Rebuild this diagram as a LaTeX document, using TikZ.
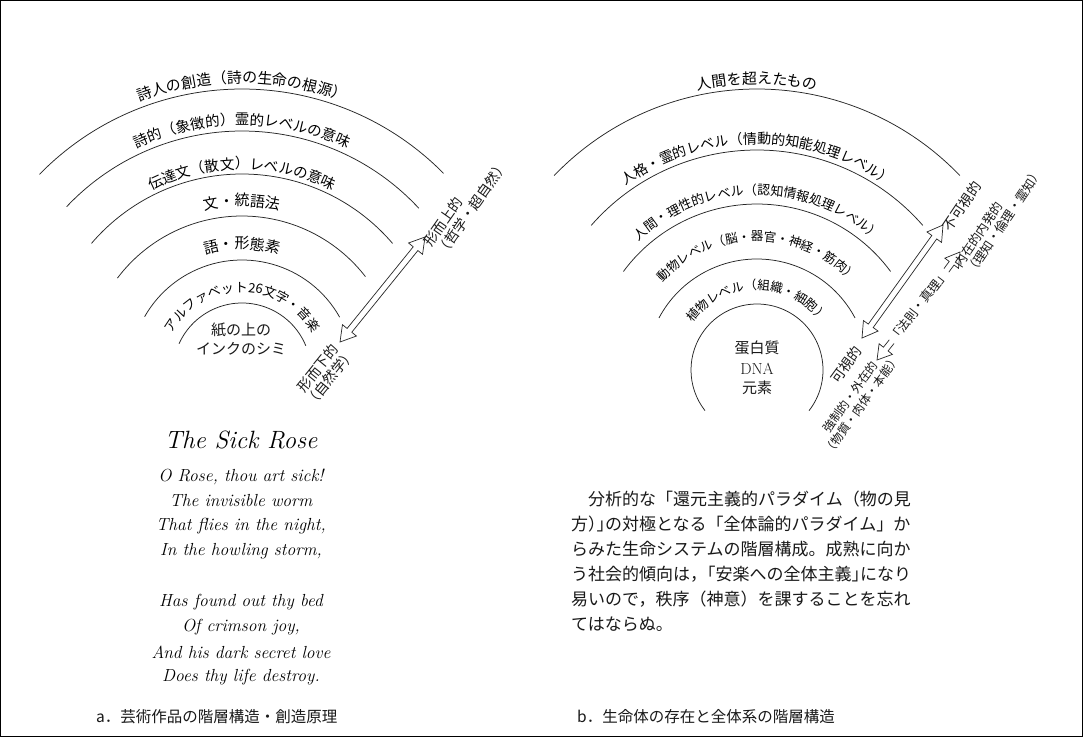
\documentclass[tikz,border=0pt]{standalone}
\usepackage{fontspec}
\usetikzlibrary{calc,decorations.text}
\newfontfamily\jp{Noto Sans CJK JP}
\newfontfamily\jph[RawFeature=+halt]{Noto Sans CJK JP}
\newcommand{\fs}[1]{\fontsize{#1}{#1}\selectfont}
\newcommand{\fsl}[2]{\fontsize{#1}{#2}\selectfont}
\tikzset{
  arcline/.style={line width=0.75pt, draw=black!85},
  hollow/.style={line width=0.7pt, draw=black!85, line join=miter},
  frame/.style={line width=1.2pt, draw=black},
  jlbl/.style={inner sep=0.5pt, text=black!90},
  poem/.style={inner sep=0pt, font=\itshape\fs{17.5}, text=black},
  para/.style={inner sep=0pt, anchor=base west, font=\jp\fs{17}, text=black!90},
}
\newcommand{\ringarc}[4]{%
  \draw[arcline] ($(#1)+(-#3:#2)$) arc[start angle=-#3, end angle=-#4, radius=#2];}
\newcommand{\ringtext}[4]{%
  \path[decorate, decoration={text along path, text align=center,
    text={|\jp\fs{#3}|#4}}]
    ($(#1)+(-175:#2)$) arc[start angle=-175, end angle=-5, radius=#2];}
\newcommand{\dblarrow}[2]{%
  \draw[hollow] (#1)
    -- ($(#1)!15pt!(#2)!9pt!90:(#2)$)
    -- ($(#1)!15pt!(#2)!3pt!90:(#2)$)
    -- ($(#2)!15pt!(#1)!3pt!-90:(#1)$)
    -- ($(#2)!15pt!(#1)!9pt!-90:(#1)$)
    -- (#2)
    -- ($(#2)!15pt!(#1)!9pt!90:(#1)$)
    -- ($(#2)!15pt!(#1)!3pt!90:(#1)$)
    -- ($(#1)!15pt!(#2)!3pt!-90:(#2)$)
    -- ($(#1)!15pt!(#2)!9pt!-90:(#2)$)
    -- cycle;}
\newcommand{\sglarrow}[2]{%
  \draw[hollow] ($(#1)!3pt!90:(#2)$)
    -- ($(#2)!14pt!(#1)!3pt!-90:(#1)$)
    -- ($(#2)!14pt!(#1)!8.5pt!-90:(#1)$)
    -- (#2)
    -- ($(#2)!14pt!(#1)!8.5pt!90:(#1)$)
    -- ($(#2)!14pt!(#1)!3pt!90:(#1)$)
    -- ($(#1)!3pt!-90:(#2)$);}
\begin{document}
\begin{tikzpicture}[x=1pt,y=-1pt]
\useasboundingbox (0,0) rectangle (1083,737);
\fill[white] (0,0) rectangle (1083,737);
\draw[frame] (0.6,0.6) rectangle (1082.4,736.4);

% ---------------- left diagram ----------------
\coordinate (cL) at (242,372);
\ringarc{cL}{283}{44.6}{135.7}
\ringarc{cL}{241}{42.8}{136.7}
\ringarc{cL}{198}{40.5}{139.5}
\ringarc{cL}{156}{37.7}{143}
\ringarc{cL}{112}{29.3}{150.4}
\ringarc{cL}{69}{22.3}{155.9}

\ringtext{cL}{289}{15}{詩人の創造（詩の生命の根源）}
\ringtext{cL}{247}{14.5}{詩的（象徴的）霊的レベルの意味}
\ringtext{cL}{203}{14.5}{伝達文（散文）レベルの意味}
\ringtext{cL}{166}{15}{文・統語法}
\ringtext{cL}{123}{15}{語・形態素}
\ringtext{cL}{80}{13}{アルファベット26文字・音楽}

\node[jlbl, align=center, font=\jp\fsl{15}{19}] (ink) at (241,339) {紙の上の\\インクのシミ};

\coordinate (aL1) at (340,342);
\coordinate (aL2) at (425,237);
\dblarrow{aL1}{aL2}
\node[jlbl, rotate=51, align=center, font=\jp\fsl{14}{16}] (shita) at (324,373) {形而下的\\（自然学）};
\node[jlbl, rotate=55, anchor=west, align=left, font=\jp\fsl{14}{16}] (ue) at (433,250) {形而上的\\（哲学・超自然）};

% ---------------- right diagram ----------------
\coordinate (cR) at (757,370);
\ringarc{cR}{281}{43.8}{136.2}
\ringarc{cR}{220}{41.1}{138.9}
\ringarc{cR}{166}{36.4}{143.6}
\ringarc{cR}{111}{28}{152}
\draw[arcline] ($(cR)+(38:66)$) arc[start angle=38, end angle=-218, radius=66];

\ringtext{cR}{286}{15}{人間を超えたもの}
\ringtext{cR}{226}{14}{人格・霊的レベル（情動的知能処理レベル）}
\ringtext{cR}{175}{13}{人間・理性的レベル（認知情報処理レベル）}
\ringtext{cR}{129}{12.5}{動物レベル（脳・器官・神経・筋肉）}
\ringtext{cR}{80}{12.5}{植物レベル（組織・細胞）}

\node[jlbl, font=\jp\fs{15}] (tanpaku) at (757,348) {蛋白質};
\node[jlbl, font=\fs{16}] (dna) at (757,369) {DNA};
\node[jlbl, font=\jp\fs{15}] (genso) at (757,388) {元素};

\coordinate (aR1) at (862,338);
\coordinate (aR2) at (943,225);
\dblarrow{aR1}{aR2}
\node[jlbl, rotate=52.5, font=\jp\fs{12.5}, inner sep=1pt] (law) at (919,306) {「法則・真理」};
\coordinate (aR3) at (877,360);
\coordinate (aR4) at (960,252);
\sglarrow{law.west}{aR3}
\sglarrow{law.east}{aR4}

\node[jlbl, rotate=54, anchor=east, font=\jp\fs{14}] (kashi) at (859,347) {可視的};
\node[jlbl, rotate=54, align=center, font=\jp\fsl{12}{14}] (kyosei) at (856,401) {強制的・外在的\\（物質・肉体・本能）};
\node[jlbl, rotate=56, anchor=west, font=\jp\fs{14}] (fukashi) at (946,230) {不可視的};
\node[jlbl, rotate=56, anchor=west, align=left, font=\jp\fsl{12.5}{14}] (naizai) at (963,270) {内在的内発的\\（理知・倫理・霊知）};

% ---------------- poem ----------------
\node[poem, font=\itshape\fs{25}] (title) at (241,440) {The Sick Rose};
\node[poem] (p1) at (241,477) {O Rose, thou art sick!};
\node[poem] (p2) at (241,501) {The invisible worm};
\node[poem] (p3) at (241,526) {That flies in the night,};
\node[poem] (p4) at (241,551) {In the howling storm,};
\node[poem] (p5) at (241,602) {Has found out thy bed};
\node[poem] (p6) at (241,627) {Of crimson joy,};
\node[poem] (p7) at (241,652) {And his dark secret love};
\node[poem] (p8) at (241,677) {Does thy life destroy.};

% ---------------- paragraph ----------------
\node[para] (l1) at (571,505) {　分析的な「還元主義的パラダイム（物の見};
\node[para] (l2) at (571,530) {方{\jph ）」}の対極となる「全体論的パラダイム」か};
\node[para] (l3) at (571,555) {らみた生命システムの階層構成。成熟に向か};
\node[para] (l4) at (571,580) {う社会的傾向は{\jph ，}「安楽への全体主義{\jph 」}になり};
\node[para] (l5) at (571,605) {易いので，秩序（神意）を課することを忘れ};
\node[para] (l6) at (571,630) {てはならぬ。};

% ---------------- captions ----------------
\node[para, font=\jp\fs{15.5}] (capa) at (96,722) {a．芸術作品の階層構造・創造原理};
\node[para, font=\jp\fs{15.5}] (capb) at (577,722) {b．生命体の存在と全体系の階層構造};
\end{tikzpicture}
\end{document}
